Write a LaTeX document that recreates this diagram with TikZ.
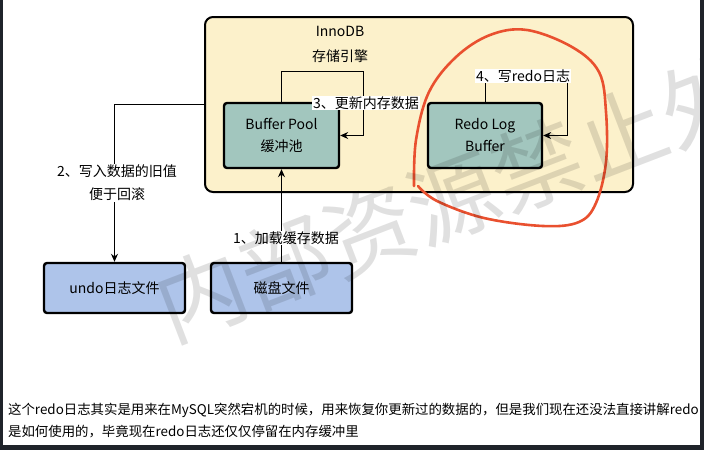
\documentclass[tikz,border=0pt]{standalone}
\usepackage{fontspec}
\setmainfont{Noto Sans CJK SC}
\usetikzlibrary{arrows.meta}
\definecolor{innofill}{HTML}{FCF1CB}
\definecolor{tealfill}{HTML}{A2C6BE}
\definecolor{bluefill}{HTML}{AEC4EA}
\definecolor{redpen}{HTML}{E9502F}
\definecolor{darkedge}{HTML}{1F232A}
\tikzset{
  outerbox/.style={draw=black, line width=2pt, rounded corners=8pt, fill=innofill},
  membox/.style={draw=black, line width=2.4pt, rounded corners=3pt, fill=tealfill, align=center, font=\fontsize{14}{22}\selectfont, inner sep=0pt},
  filebox/.style={draw=black, line width=2.4pt, rounded corners=3pt, fill=bluefill, align=center, font=\fontsize{14}{22}\selectfont, inner sep=0pt},
  arr/.style={draw=black, line width=0.9pt, -{Stealth[length=8pt,width=7pt]}},
  lbl/.style={fill=white, inner sep=1pt, align=center, font=\fontsize{14}{22}\selectfont},
  plain/.style={align=center, font=\fontsize{14}{25}\selectfont, inner sep=0pt},
}
\begin{document}
\begin{tikzpicture}[x=1pt,y=-1pt]
\useasboundingbox (0,0) rectangle (704,450);
\fill[white] (0,0) rectangle (704,450);

% InnoDB container
\node[outerbox, minimum width=428pt, minimum height=175pt] (inno) at (419,104.5) {};
\node[plain] (innotitle) at (340,44) {InnoDB\\存储引擎};

% boxes
\node[membox, minimum width=115pt, minimum height=65pt] (bp) at (281.5,135.5) {Buffer Pool\\缓冲池};
\node[membox, minimum width=114pt, minimum height=65pt] (redo) at (485,135.5) {Redo Log\\Buffer};
\node[filebox, minimum width=141pt, minimum height=50pt] (undo) at (114.5,288) {undo日志文件};
\node[filebox, minimum width=141pt, minimum height=50pt] (disk) at (281.5,288) {磁盘文件};

% connectors
\coordinate (c3) at (363,71);
\coordinate (c4) at (567,76);
\draw[arr] (disk.north) -- (bp.south);
\draw[arr] (bp.north) |- (c3) |- (bp.east);
\draw[arr] (redo.north) |- (c4) |- (redo.east);
\draw[arr] (inno.west) -| (undo.north);

% labels
\node[lbl] (l1) at (286,238) {1、加载缓存数据};
\node[lbl] (l3) at (366,103) {3、更新内存数据};
\node[lbl] (l4) at (523,76) {4、写redo日志};
\node[lbl, font=\fontsize{14}{23}\selectfont] (l2) at (117,183) {2、写入数据的旧值\\便于回滚};

% red hand-drawn loop
\draw[redpen, line width=2.6pt, line cap=round, line join=round]
  plot[smooth, tension=0.6] coordinates {(414,186) (416,140) (429,92) (456,57) (490,35) (527,30) (572,47) (599,72) (606,112) (606,162) (596,203) (579,222) (543,226) (484,218) (437,201) (418,186)};

% watermark
\node[rotate=21, text=black, text opacity=0.12, font=\fontsize{90}{90}\selectfont, inner sep=0pt] (wm) at (453,198) {内部资源禁止外};

% bottom paragraph
\node[anchor=west, inner sep=0pt, font=\fontsize{13.4}{22}\selectfont] (p1) at (8,410) {这个redo日志其实是用来在MySQL突然宕机的时候，用来恢复你更新过的数据的，但是我们现在还没法直接讲解redo};
\node[anchor=west, inner sep=0pt, font=\fontsize{13.4}{22}\selectfont] (p2) at (8,432) {是如何使用的，毕竟现在redo日志还仅仅停留在内存缓冲里};

% screenshot edges
\fill[darkedge] (0,0) rectangle (3,450);
\fill[darkedge] (700,0) rectangle (704,450);
\fill[darkedge] (0,445) rectangle (704,450);
\end{tikzpicture}
\end{document}
